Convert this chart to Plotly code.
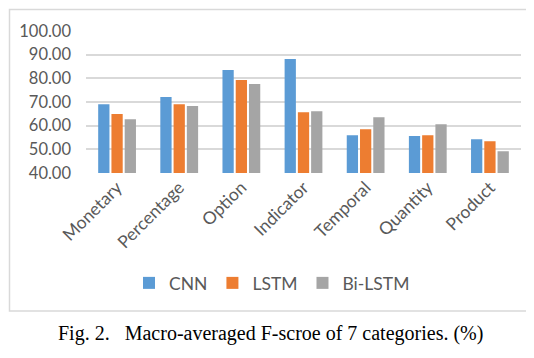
import plotly.graph_objects as go

categories = ["Monetary", "Percentage", "Option", "Indicator", "Temporal", "Quantity", "Product"]
cnn = [69.1, 72.1, 83.5, 88.2, 56.0, 55.6, 54.3]
lstm = [64.9, 69.1, 79.3, 65.7, 58.5, 56.0, 53.4]
bilstm = [62.7, 68.3, 77.6, 66.1, 63.6, 60.6, 49.2]
y_ticks = [40, 50, 60, 70, 80, 90, 100]

W, H = 534, 358
L, R, T, B = 78, 513, 23, 165  # plot area in pixels


def px_x(p):
    return (p - L) / (R - L)


def px_y(p):
    return (B - p) / (B - T)


txt = dict(family="Lato, 'Open Sans', sans-serif", size=16.5, color="#595959")
big = dict(txt, size=17.5)

fig = go.Figure()
for name, vals, col in [("CNN", cnn, "#5b9bd5"), ("LSTM", lstm, "#ed7d31"), ("Bi-LSTM", bilstm, "#a5a5a5")]:
    fig.add_trace(go.Bar(x=categories, y=vals, name=name, marker=dict(color=col, line_width=0)))

fig.update_layout(
    width=W, height=H,
    margin=dict(l=L, r=W - R, t=T, b=H - B),
    paper_bgcolor="white", plot_bgcolor="white",
    barmode="group", bargap=0.36, bargroupgap=0.15,
    font=txt,
    showlegend=True,
    legend=dict(orientation="h", x=px_x(264), xanchor="center", y=px_y(275), yanchor="middle",
                font=big, itemwidth=30, traceorder="normal"),
    xaxis=dict(tickangle=-45, showgrid=False, showline=False, ticks="", tickfont=big,
               automargin=False),
    yaxis=dict(range=[40, 100], tickvals=y_ticks, tickformat=".2f", showgrid=True,
               gridcolor="#d9d9d9", gridwidth=2, zeroline=False, showline=False,
               ticks="", tickfont=txt, ticklabelstandoff=14, automargin=False),
    shapes=[dict(type="rect", xref="paper", yref="paper",
                 x0=px_x(1.5), x1=px_x(533), y0=px_y(1.5), y1=px_y(303),
                 line=dict(color="#d9d9d9", width=1.5), fillcolor="rgba(0,0,0,0)", layer="below")],
    annotations=[dict(text="Fig. 2.   Macro-averaged F-scroe of 7 categories. (%)",
                      xref="paper", yref="paper", x=px_x(262), y=px_y(325),
                      xanchor="center", yanchor="middle", showarrow=False,
                      font=dict(family="Liberation Serif, Times New Roman, serif", size=20, color="#000000"))],
)

fig.write_html("out.html")
